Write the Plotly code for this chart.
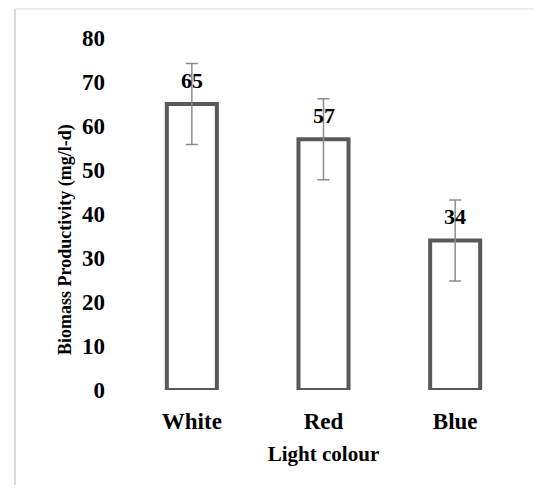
import plotly.graph_objects as go

categories = ["White", "Red", "Blue"]
values = [65, 57, 34]
errors = [9.2, 9.2, 9.2]
labels = ["65", "57", "34"]
y_ticks = [0, 10, 20, 30, 40, 50, 60, 70, 80]

# page body adds an 8px margin on every side; size and margins compensate
W, H = 526, 478
ml, mr, mt, mb = 118, 13, 30, 96

FONT = "Liberation Serif"

fig = go.Figure()
fig.add_trace(go.Bar(
    x=categories, y=values, width=0.38,
    marker=dict(color="white", line=dict(color="#595959", width=4)),
    error_y=dict(type="data", array=errors, visible=True,
                 color="#8c8c8c", thickness=1.5, width=6),
    hoverinfo="skip",
))

for c, v, t in zip(categories, values, labels):
    fig.add_annotation(x=c, y=v, text="<b>%s</b>" % t, showarrow=False,
                       yanchor="bottom", yshift=9,
                       font=dict(family=FONT, size=22, color="black"))

pw = W - ml - mr
ph = H - mt - mb
def px_x(p):
    return (p - ml) / pw
def px_y(p):
    return (H - mb - p) / ph

# chart-area border: left and top edges only
fig.add_shape(type="line", xref="paper", yref="paper",
              x0=px_x(7), x1=px_x(W - 1), y0=px_y(1), y1=px_y(1),
              line=dict(color="#d9d9d9", width=1.2), layer="below")
fig.add_shape(type="line", xref="paper", yref="paper",
              x0=px_x(7), x1=px_x(7), y0=px_y(1), y1=px_y(H - 1),
              line=dict(color="#d9d9d9", width=2), layer="below")

# y-axis title
fig.add_annotation(xref="paper", yref="paper", x=px_x(57), y=px_y(232),
                   text="<b>Biomass Productivity (mg/l-d)</b>", textangle=-90,
                   showarrow=False, xanchor="center", yanchor="middle",
                   font=dict(family=FONT, size=18, color="black"))

fig.update_layout(
    width=W, height=H,
    margin=dict(l=ml, r=mr, t=mt, b=mb, autoexpand=False),
    paper_bgcolor="white", plot_bgcolor="white",
    showlegend=False,
    font=dict(family=FONT, color="black"),
    xaxis=dict(
        showline=False, showgrid=False, zeroline=False,
        tickfont=dict(family=FONT, size=23, color="black"),
        tickprefix="<b>", ticksuffix="</b>",
        ticklabelstandoff=15,
        title=dict(text="<b>Light colour</b>", font=dict(family=FONT, size=21, color="black"),
                   standoff=13),
        automargin=False,
    ),
    yaxis=dict(
        range=[0, 80], tickvals=y_ticks,
        ticktext=["<b>%d</b>" % v for v in y_ticks],
        showline=False, showgrid=False, zeroline=False,
        tickfont=dict(family=FONT, size=23, color="black"),
        ticklabelstandoff=20,
        automargin=False,
    ),
)

fig.write_html("out.html")
